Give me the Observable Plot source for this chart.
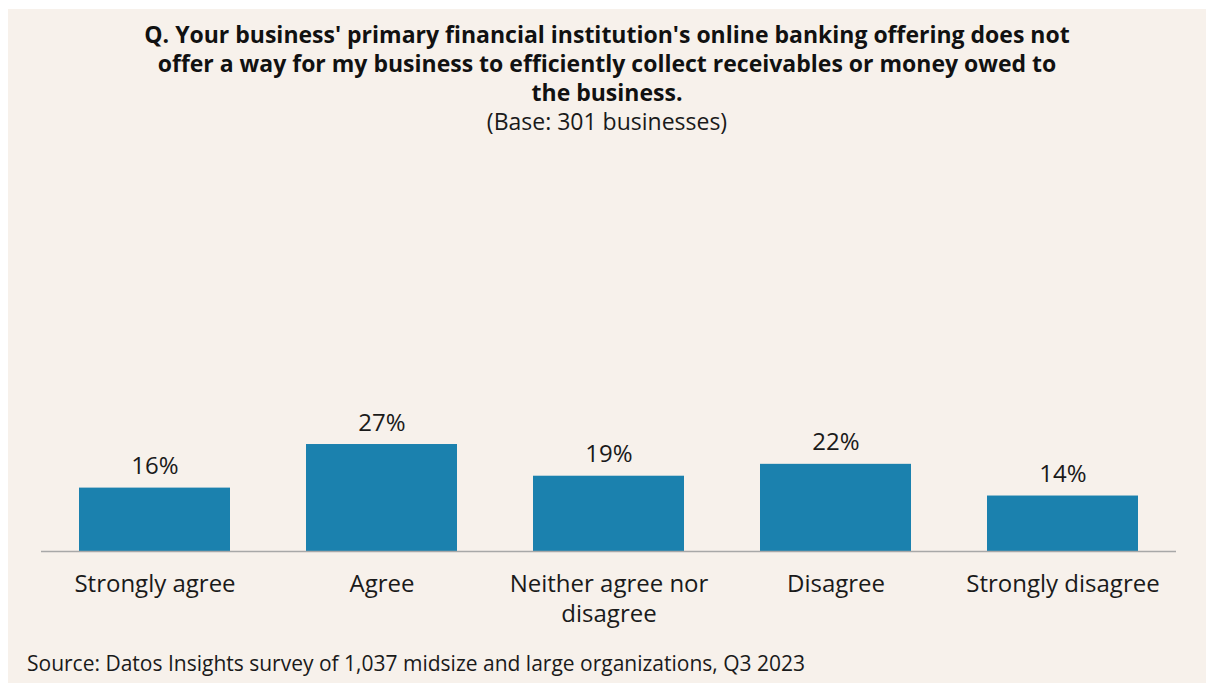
<!DOCTYPE html>
<html>
<head>
<meta charset="utf-8">
<script src="https://cdn.jsdelivr.net/npm/d3@7"></script>
<script src="https://cdn.jsdelivr.net/npm/@observablehq/plot@0.6"></script>
<style>
  html, body { margin: 0; padding: 0; background: #ffffff; }
  body { padding: 9px 0 0 8px; }
  #panel { width: 1198px; height: 674px; background: #f7f1eb; position: relative; font-family: "Open Sans", "Noto Sans", sans-serif; color: #1a1a1a; }
  #title { position: absolute; top: 11px; left: 0; width: 1198px; text-align: center; font-weight: 700; font-size: 23px; line-height: 29px; color: #111; }
  #subtitle { position: absolute; top: 97px; left: 0; width: 1198px; text-align: center; font-size: 23px; line-height: 30px; }
  #chart { position: absolute; top: 122px; left: 0; }
  #source { position: absolute; top: 640px; left: 19px; font-size: 21px; line-height: 28px; }
</style>
</head>
<body>
<div id="panel">
  <div id="title">Q. Your business' primary financial institution's online banking offering does not<br>offer a way for my business to efficiently collect receivables or money owed to<br>the business.</div>
  <div id="subtitle">(Base: 301 businesses)</div>
  <div id="chart"></div>
  <div id="source">Source: Datos Insights survey of 1,037 midsize and large organizations, Q3 2023</div>
</div>
<script>
const categories = ["Strongly agree", "Agree", "Neither agree nor disagree", "Disagree", "Strongly disagree"];
const values = [16, 27, 19, 22, 14];
const labelLines = ["Strongly agree", "Agree", "Neither agree nor\ndisagree", "Disagree", "Strongly disagree"];

const data = categories.map((c, i) => ({category: c, value: values[i], label: labelLines[i]}));

const chart = Plot.plot({
  width: 1198,
  height: 499,
  marginTop: 0,
  marginBottom: 79,
  marginLeft: 33,
  marginRight: 30,
  style: {background: "transparent", fontFamily: "'Open Sans', 'Noto Sans', sans-serif"},
  x: {domain: categories, paddingInner: 0.335, paddingOuter: 0.1675, axis: null},
  y: {domain: [0, 106], axis: null},
  marks: [
    Plot.barY(data, {x: "category", y: "value", fill: "#1b81ae"}),
    Plot.ruleY([0], {stroke: "#a8a8a8", strokeWidth: 1.5}),
    Plot.text(data, {x: "category", y: "value", text: d => d.value + "%", lineAnchor: "bottom", dy: -14, fontSize: 24, fill: "#1a1a1a"}),
    Plot.text(data, {x: "category", y: 0, text: "label", lineAnchor: "top", dy: 19, fontSize: 24, lineHeight: 1.25, fill: "#1a1a1a"})
  ]
});
document.getElementById("chart").appendChild(chart);
</script>
</body>
</html>
